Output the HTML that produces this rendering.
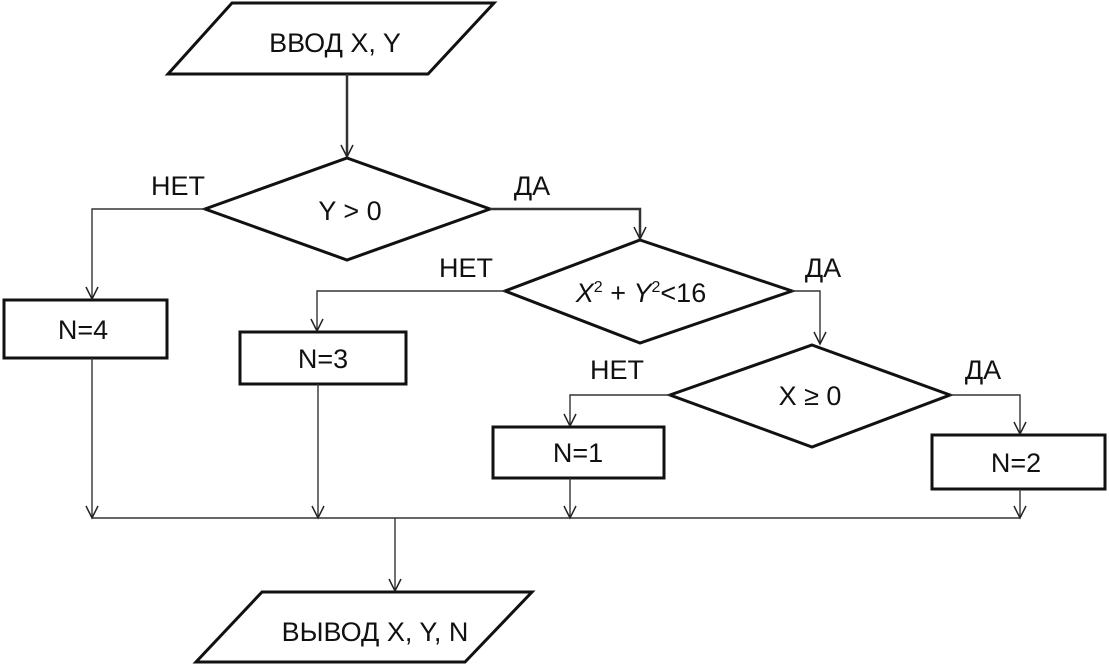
<!DOCTYPE html>
<html><head><meta charset="utf-8"><style>
html,body{margin:0;padding:0;background:#fff;}
svg text{font-family:"Liberation Sans","DejaVu Sans",sans-serif;fill:#111;}
</style></head><body>
<svg width="1109" height="665" viewBox="0 0 1109 665" xmlns="http://www.w3.org/2000/svg">
<defs>
<marker id="a" markerWidth="16" markerHeight="16" refX="13" refY="7" orient="auto" markerUnits="userSpaceOnUse">
<path d="M1,1 L13,7 L1,13" fill="none" stroke="#222" stroke-width="1.5"/>
</marker>
</defs>
<g fill="none" stroke="#111" stroke-width="3">
<polygon points="232,3 494,3 428,74 168,74"/>
<polygon points="347,158 490,209 347,260 205,209"/>
<polygon points="640,240 792,291 640,343 505,291"/>
<polygon points="812,345 950,395 812,447 670,395"/>
<rect x="4" y="300" width="163" height="58"/>
<rect x="240" y="332" width="166" height="52"/>
<rect x="493" y="427" width="171" height="51"/>
<rect x="932" y="435" width="173" height="54"/>
<polygon points="262,592 532,592 465,662 196,662"/>
</g>
<g fill="none" stroke="#333" stroke-width="1.4">
<line x1="347" y1="74" x2="347" y2="157" stroke-width="2.5" marker-end="url(#a)"/>
<polyline points="205,209 92,209 92,299" marker-end="url(#a)"/>
<polyline points="490,209 640,209 640,239" stroke-width="2.5" marker-end="url(#a)"/>
<polyline points="505,291 317,291 317,331" marker-end="url(#a)"/>
<polyline points="792,291 820,291 820,344" marker-end="url(#a)"/>
<polyline points="670,395 570,395 570,426" marker-end="url(#a)"/>
<polyline points="950,395 1020,395 1020,434" marker-end="url(#a)"/>
<line x1="92" y1="358" x2="92" y2="518" marker-end="url(#a)"/>
<line x1="318" y1="384" x2="318" y2="518" marker-end="url(#a)"/>
<line x1="570" y1="478" x2="570" y2="518" marker-end="url(#a)"/>
<line x1="1020" y1="489" x2="1020" y2="518" marker-end="url(#a)"/>
<line x1="92" y1="518" x2="1020" y2="518"/>
<line x1="395" y1="518" x2="395" y2="591" marker-end="url(#a)"/>
</g>
<g font-size="27" text-anchor="middle">
<text x="335" y="52">ВВОД  X, Y</text>
<text x="350" y="220">Y &gt; 0</text>
<text x="178" y="195">НЕТ</text>
<text x="532" y="195">ДА</text>
<text x="466" y="277">НЕТ</text>
<text x="823" y="277">ДА</text>
<text x="617" y="379">НЕТ</text>
<text x="983" y="379">ДА</text>
<text x="641" y="302" font-family="Liberation Serif,serif"><tspan font-style="italic">X</tspan><tspan font-size="16" dy="-10">2</tspan><tspan dy="10"> + </tspan><tspan font-style="italic">Y</tspan><tspan font-size="16" dy="-10">2</tspan><tspan dy="10" font-family="Liberation Sans,sans-serif">&lt;16</tspan></text>
<text x="810" y="405">X ≥ 0</text>
<text x="83" y="339">N=4</text>
<text x="323" y="368">N=3</text>
<text x="578" y="462">N=1</text>
<text x="1016" y="472">N=2</text>
<text x="375" y="641">ВЫВОД X, Y, N</text>
</g>
</svg>
</body></html>
